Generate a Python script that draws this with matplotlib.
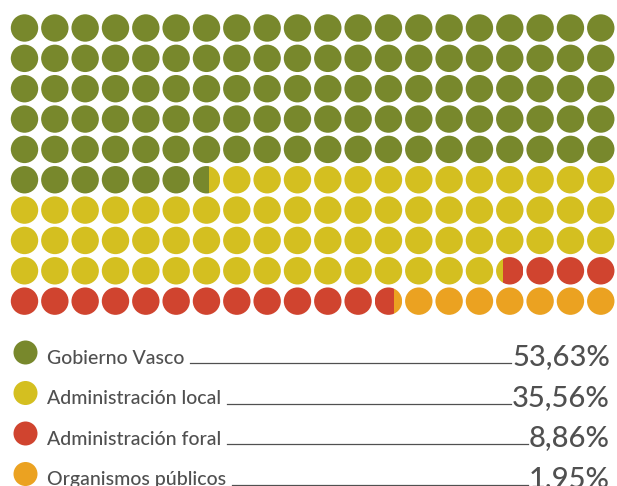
import matplotlib
matplotlib.use("Agg")
import matplotlib.pyplot as plt
from matplotlib.patches import Circle, Rectangle

# legend data
labels = ["Gobierno Vasco", "Administración local", "Administración foral", "Organismos públicos"]
percents = ["53,63%", "35,56%", "8,86%", "1,95%"]
colors = ["#78882c", "#d4bf20", "#d0442f", "#eba221"]
# cells per category as drawn in the waffle (200 cells)
cells = [106.6, 69.64, 16.48, 7.28]

n_cols, n_rows = 20, 10

fig = plt.figure(figsize=(6.17, 4.86), dpi=100)
ax = fig.add_axes([0, 0, 1, 1])
ax.set_xlim(0, 617)
ax.set_ylim(486, 0)
ax.axis("off")

# waffle grid geometry (pixels)
x0, y0 = 24.5, 28.0
step_x, step_y = 30.33, 30.35
diam = 27.4

bounds = []
start = 0.0
for c in cells:
    bounds.append((start, start + c))
    start += c

for i in range(n_cols * n_rows):
    r, col = divmod(i, n_cols)
    cx = x0 + col * step_x
    cy = y0 + r * step_y
    left = cx - diam / 2
    for (a, b), color in zip(bounds, colors):
        lo, hi = max(a, i), min(b, i + 1)
        if hi <= lo:
            continue
        circ = Circle((cx, cy), diam / 2, facecolor=color, edgecolor="none")
        ax.add_patch(circ)
        if lo > i or hi < i + 1:
            # partial cell: keep only the slice that belongs to this category
            clip = Rectangle((left + (lo - i) * diam, cy - diam), (hi - lo) * diam, 2 * diam,
                             transform=ax.transData)
            circ.set_clip_path(clip)

# legend
text_color = "#505050"
leg_y = [352.5, 393.0, 433.5, 474.0]
fig.canvas.draw()
renderer = fig.canvas.get_renderer()
for lab, pct, color, y in zip(labels, percents, colors, leg_y):
    ax.add_patch(Circle((25.5, y), 12, facecolor=color, edgecolor="none"))
    base = y + 11
    t1 = ax.text(47, base, lab, fontsize=14, family="Lato", fontweight="medium",
                 color=text_color, ha="left", va="baseline")
    t2 = ax.text(610, base + 2, pct, fontsize=21, family="Lato", fontweight="medium",
                 color=text_color, ha="right", va="baseline")
    bb1 = t1.get_window_extent(renderer).transformed(ax.transData.inverted())
    bb2 = t2.get_window_extent(renderer).transformed(ax.transData.inverted())
    ax.plot([bb1.x1 + 6, bb2.x0 - 1], [base - 0.5, base - 0.5], color=text_color, lw=0.9)

fig.savefig("out.png", dpi=100)
